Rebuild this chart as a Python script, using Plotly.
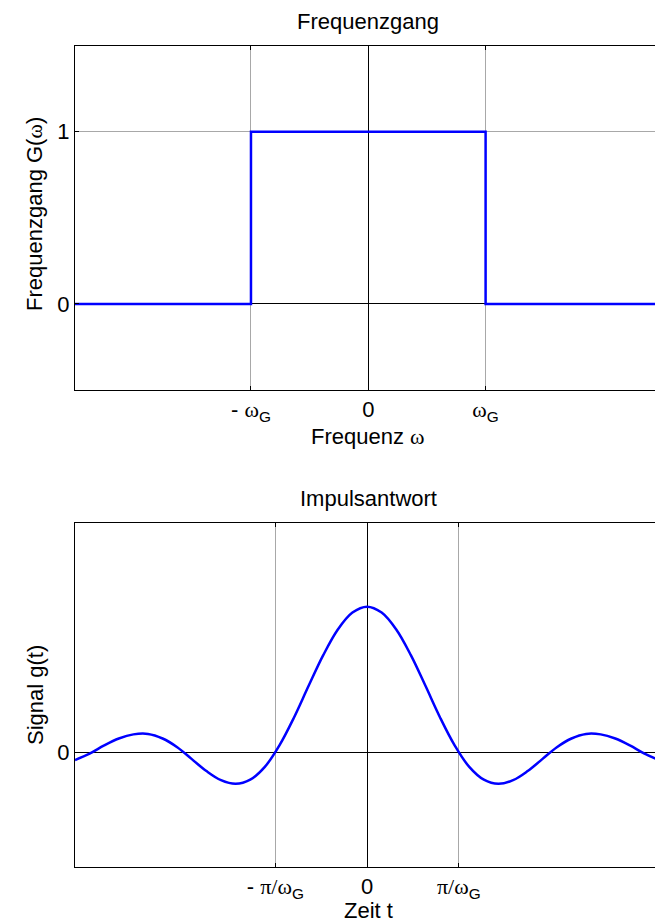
import plotly.graph_objects as go
import math

# ---- data ----
freq_x = [-2.5, -1, -1, 1, 1, 2.5]          # in units of omega_G
freq_y = [0, 0, 1, 1, 0, 0]
freq_tickvals = [-1, 0, 1]
freq_ticktext = ["- <span style='font-family:Liberation Serif'>ω</span><sub>G</sub>", "0",
                 "<span style='font-family:Liberation Serif'>ω</span><sub>G</sub>"]
freq_ytickvals = [0, 1]

t_vals = [-10, -9.5, -9, -8.5, -8, -7.5, -7, -6.5, -6, -5.5, -5, -4.5, -4, -3.5, -3, -2.5, -2, -1.5, -1, -0.5,
          0, 0.5, 1, 1.5, 2, 2.5, 3, 3.5, 4, 4.5, 5, 5.5, 6, 6.5, 7, 7.5, 8, 8.5, 9, 9.5, 10]
g_vals = [-0.017, -0.003, 0.015, 0.030, 0.039, 0.040, 0.030, 0.011, -0.015, -0.041, -0.061, -0.069, -0.060,
          -0.032, 0.015, 0.076, 0.145, 0.212, 0.268, 0.305,
          0.318,
          0.305, 0.268, 0.212, 0.145, 0.076, 0.015, -0.032, -0.060, -0.069, -0.061, -0.041, -0.015, 0.011,
          0.030, 0.040, 0.039, 0.030, 0.015, -0.003, -0.017]
imp_tickvals = [-math.pi, 0, math.pi]
imp_ticktext = ["- <span style='font-family:Liberation Serif'>π/ω</span><sub>G</sub>", "0",
                "<span style='font-family:Liberation Serif'>π/ω</span><sub>G</sub>"]
imp_ytickvals = [0]

W, H = 655, 923
L = 75
FONT = "Liberation Sans, Arial, sans-serif"
FS = 22
BLUE = "#0000ff"
GRID = "#a8a8a8"


def px_x(p):
    return (p - L) / (W - L)


def px_y(p):
    return 1 - p / H


fig = go.Figure()
fig.add_trace(go.Scatter(x=freq_x, y=freq_y, mode="lines", line=dict(color=BLUE, width=2.5),
                         xaxis="x", yaxis="y", showlegend=False, hoverinfo="skip"))
fig.add_trace(go.Scatter(x=t_vals, y=g_vals, mode="lines", line=dict(color=BLUE, width=2.5, shape="spline"),
                         xaxis="x2", yaxis="y2", showlegend=False, hoverinfo="skip"))

common_x = dict(showgrid=True, gridcolor=GRID, gridwidth=1, zeroline=True, zerolinecolor="#000000",
                zerolinewidth=1, showline=True, linecolor="#000000", linewidth=1, mirror="ticks",
                ticks="inside", ticklen=4, tickcolor="#000000", tickmode="array",
                tickfont=dict(family=FONT, size=FS, color="#000000"), fixedrange=True)
common_y = dict(showgrid=True, gridcolor=GRID, gridwidth=1, zeroline=True, zerolinecolor="#000000",
                zerolinewidth=1, showline=True, linecolor="#000000", linewidth=1, mirror=False,
                ticks="inside", ticklen=4, tickcolor="#000000", tickmode="array",
                tickfont=dict(family=FONT, size=FS, color="#000000"), fixedrange=True)

fig.update_layout(
    width=W, height=H,
    margin=dict(l=L, r=0, t=0, b=0),
    paper_bgcolor="white", plot_bgcolor="white",
    font=dict(family=FONT, size=FS, color="#000000"),
    xaxis=dict(domain=[0, 1], range=[-2.5, 2.444], anchor="y", tickvals=freq_tickvals,
               ticktext=freq_ticktext, **common_x),
    yaxis=dict(domain=[px_y(390), px_y(45.7)], range=[-0.5, 1.5], anchor="x",
               tickvals=freq_ytickvals, ticktext=[str(v) for v in freq_ytickvals], **common_y),
    xaxis2=dict(domain=[0, 1], range=[-10, 9.86], anchor="y2", tickvals=imp_tickvals,
                ticktext=imp_ticktext, **common_x),
    yaxis2=dict(domain=[px_y(866.7), px_y(523.3)], range=[-0.25, 0.5], anchor="x2",
                tickvals=imp_ytickvals, ticktext=[str(v) for v in imp_ytickvals], **common_y),
)

ann = dict(xref="paper", yref="paper", showarrow=False, font=dict(family=FONT, size=FS, color="#000000"))
fig.add_annotation(text="Frequenzgang", x=px_x(368), y=px_y(21), xanchor="center", yanchor="middle", **ann)
fig.add_annotation(text="Frequenz <span style='font-family:Liberation Serif'>ω</span>", x=px_x(368),
                   y=px_y(436), xanchor="center", yanchor="middle", **ann)
fig.add_annotation(text="Impulsantwort", x=px_x(368), y=px_y(498.5), xanchor="center", yanchor="middle", **ann)
fig.add_annotation(text="Zeit t", x=px_x(368), y=px_y(910), xanchor="center", yanchor="middle", **ann)
fig.add_annotation(text="Frequenzgang G(<span style='font-family:Liberation Serif'>ω</span>)", x=px_x(35),
                   y=px_y(214), xanchor="center", yanchor="middle", textangle=-90, **ann)
fig.add_annotation(text="Signal g(t)", x=px_x(35), y=px_y(695), xanchor="center", yanchor="middle",
                   textangle=-90, **ann)

fig.write_html("out.html")
